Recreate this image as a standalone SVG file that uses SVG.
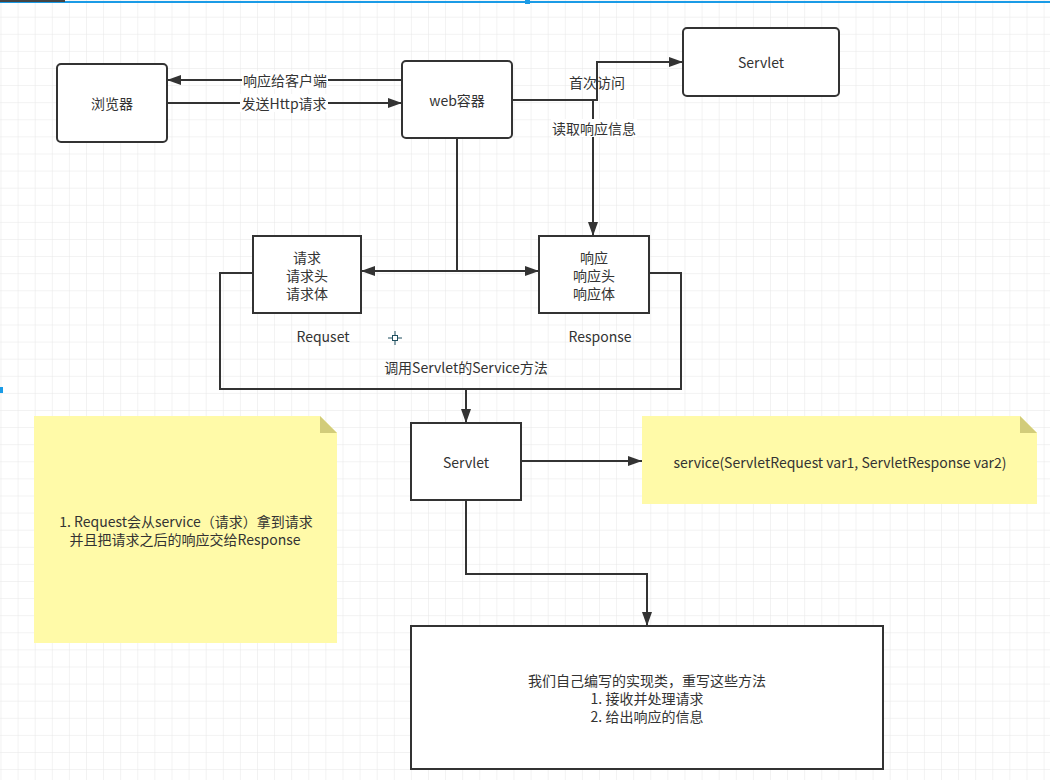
<svg xmlns="http://www.w3.org/2000/svg" width="1050" height="780" viewBox="0 0 1050 780">
  <defs>
    <pattern id="grid" x="0.5" y="-0.4" width="17.1" height="17.1" patternUnits="userSpaceOnUse">
      <path d="M0,0 V17.1 M0,0 H17.1" fill="none" stroke="#e6e6e6" stroke-width="1"/>
    </pattern>
    <marker id="arr" markerUnits="userSpaceOnUse" markerWidth="15" markerHeight="11" refX="14" refY="5.5" orient="auto">
      <path d="M0,0.5 L14,5.5 L0,10.5 Z" fill="#333"/>
    </marker>
  </defs>
  <style>
    text { font-family: "Noto Sans CJK SC", "Noto Sans", sans-serif; font-size: 14px; fill: #333; }
    .c { text-anchor: middle; dominant-baseline: central; }
    .box { fill: #fff; stroke: #333; stroke-width: 2; }
    .edge { fill: none; stroke: #333; stroke-width: 2; }
    .note { fill: #fffaa8; }
    .fold { fill: #d2cc7a; }
    .lblbg { fill: #fff; }
  </style>

  <rect width="1050" height="780" fill="#fff"/>
  <rect width="1050" height="780" fill="url(#grid)"/>

  <!-- editor frame artifacts -->
  <rect x="0" y="1" width="1050" height="2" fill="#1a9be6"/>
  <rect x="0" y="0" width="65" height="2" fill="#444"/>
  <rect x="525" y="0" width="5" height="4" fill="#1a9be6"/>
  <rect x="0" y="387" width="3" height="6" fill="#1a9be6"/>

  <g id="connectors">
    <path class="edge" d="M402,80 H167" marker-end="url(#arr)"/>
    <path class="edge" d="M167,103 H402" marker-end="url(#arr)"/>
    <path class="edge" d="M512,100 H597 V62 H683" marker-end="url(#arr)"/>
    <path class="edge" d="M512,100 H593 V236" marker-end="url(#arr)"/>
    <path class="edge" d="M457,138 V271"/>
    <path class="edge" d="M457,271 H361" marker-end="url(#arr)"/>
    <path class="edge" d="M457,271 H539" marker-end="url(#arr)"/>
    <path class="edge" d="M253,273 H220 V389 H466 V423" marker-end="url(#arr)"/>
    <path class="edge" d="M649,273 H681 V389 H466"/>
    <path class="edge" d="M521,461 H642" marker-end="url(#arr)"/>
    <path class="edge" d="M466,500 V574 H647 V626" marker-end="url(#arr)"/>

    <rect class="lblbg" x="242" y="71" width="86" height="18"/>
    <text class="c" x="285" y="80">响应给客户端</text>
    <rect class="lblbg" x="240" y="94" width="88" height="18"/>
    <text class="c" x="284" y="103">发送Http请求</text>
    <text class="c" x="597" y="82">首次访问</text>
    <rect class="lblbg" x="551" y="119" width="86" height="18"/>
    <text class="c" x="594" y="128">读取响应信息</text>
    <text class="c" x="466" y="367">调用Servlet的Service方法</text>
  </g>

  <g id="browser">
    <rect class="box" x="57" y="64" width="110" height="78" rx="4"/>
    <text class="c" x="112" y="103">浏览器</text>
  </g>

  <g id="web-container">
    <rect class="box" x="402" y="61" width="110" height="77" rx="4"/>
    <text class="c" x="457" y="100">web容器</text>
  </g>

  <g id="servlet-top">
    <rect class="box" x="683" y="28" width="156" height="68" rx="4"/>
    <text class="c" x="761" y="62">Servlet</text>
  </g>

  <g id="request">
    <rect class="box" x="253" y="236" width="108" height="77"/>
    <text class="c" x="307" y="257">请求</text>
    <text class="c" x="307" y="275">请求头</text>
    <text class="c" x="307" y="293">请求体</text>
  </g>
  <g id="request-label">
    <text class="c" x="323" y="336">Requset</text>
  </g>

  <g id="response">
    <rect class="box" x="539" y="236" width="110" height="77"/>
    <text class="c" x="594" y="257">响应</text>
    <text class="c" x="594" y="275">响应头</text>
    <text class="c" x="594" y="293">响应体</text>
  </g>
  <g id="response-label">
    <text class="c" x="600" y="336">Response</text>
  </g>

  <g id="servlet">
    <rect class="box" x="411" y="423" width="110" height="77"/>
    <text class="c" x="466" y="462">Servlet</text>
  </g>

  <g id="note-service">
    <path class="note" d="M642,416 H1020 L1037,433 V504 H642 Z"/>
    <path class="fold" d="M1020,416 V433 H1037 Z"/>
    <text class="c" x="840" y="462">service(ServletRequest var1, ServletResponse var2)</text>
  </g>

  <g id="note-request">
    <path class="note" d="M34,416 H320 L337,433 V643 H34 Z"/>
    <path class="fold" d="M320,416 V433 H337 Z"/>
    <text class="c" x="186" y="521">1. Request会从service（请求）拿到请求</text>
    <text class="c" x="185" y="539">并且把请求之后的响应交给Response</text>
  </g>

  <g id="impl">
    <rect class="box" x="411" y="626" width="472" height="143"/>
    <text class="c" x="647" y="680">我们自己编写的实现类，重写这些方法</text>
    <text class="c" x="647" y="698">1. 接收并处理请求</text>
    <text class="c" x="647" y="716">2. 给出响应的信息</text>
  </g>

  <g id="cursor">
    <path d="M395,331 V345 M388,338 H402" stroke="#1f4f5f" stroke-width="1" fill="none"/>
    <rect x="392.5" y="335.5" width="5" height="5" fill="#fff" stroke="#1f4f5f" stroke-width="1"/>
  </g>
</svg>
